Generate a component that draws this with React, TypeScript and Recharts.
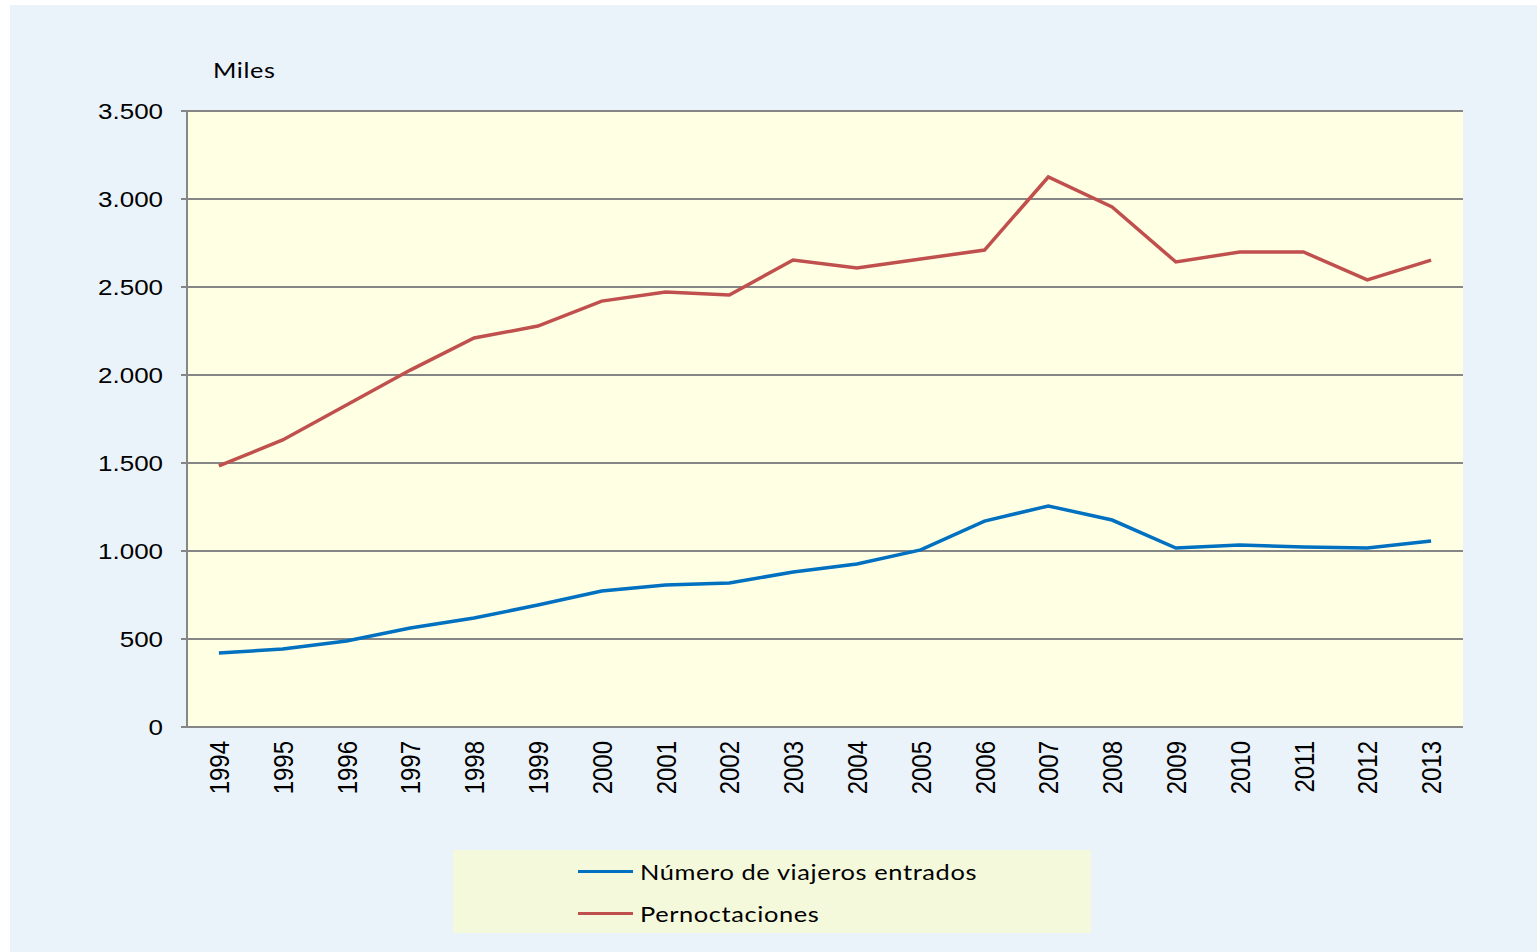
import React from 'react';
import { LineChart, Line, XAxis, YAxis, CartesianGrid } from 'recharts';

const years = ['1994','1995','1996','1997','1998','1999','2000','2001','2002','2003','2004','2005','2006','2007','2008','2009','2010','2011','2012','2013'];
const viajeros = [420, 443, 489, 562, 619, 693, 773, 807, 818, 881, 926, 1006, 1170, 1256, 1176, 1017, 1034, 1023, 1017, 1057];
const pernoctaciones = [1483, 1631, 1830, 2028, 2210, 2278, 2420, 2472, 2455, 2653, 2608, 2659, 2710, 3125, 2955, 2642, 2699, 2699, 2540, 2653];
const yTicks = [0, 500, 1000, 1500, 2000, 2500, 3000, 3500];
const seriesNames = ['Número de viajeros entrados', 'Pernoctaciones'];
const seriesColors = ['#0070C0', '#C0504D'];

const data = years.map((y, i) => ({ year: y, viajeros: viajeros[i], pernoctaciones: pernoctaciones[i] }));

const fmt = (v: number) => String(v).replace(/\B(?=(\d{3})+(?!\d))/g, '.');
const SX = 1.18;
const ARIAL = "'Liberation Sans', Arial, sans-serif";

const XTick = (props: any) => {
  const { x, y, payload } = props;
  return (
    <g transform={`translate(${x},${y}) scale(${SX},1) rotate(-90)`}>
      <text x={0} y={0} textAnchor="end" dy="0.36em" fontFamily={ARIAL} fontSize={24} fill="#000">
        {payload.value}
      </text>
    </g>
  );
};

const YTick = (props: any) => {
  const { x, y, payload } = props;
  return (
    <g transform={`translate(${x},${y}) scale(${SX},1)`}>
      <text x={0} y={0} textAnchor="end" dy="0.36em" fontFamily={ARIAL} fontSize={22} fill="#000">
        {fmt(payload.value)}
      </text>
    </g>
  );
};

const LegendBox = () => (
  <div style={{ position: 'absolute', left: 443, top: 845, width: 638, height: 83, background: '#F5F9DC', fontFamily: 'Lato, "Open Sans", sans-serif', fontSize: 21, color: '#000' }}>
    {seriesNames.map((n, i) => (
      <div key={n} style={{ position: 'absolute', left: 125, top: 6 + i * 42, height: 30, display: 'flex', alignItems: 'center' }}>
        <div style={{ width: 55, height: 3, background: seriesColors[i], marginRight: 7 }} />
        <span style={{ display: 'inline-block', letterSpacing: 0.5, transform: `scaleX(${SX + 0.03})`, transformOrigin: 'left center', whiteSpace: 'nowrap' }}>{n}</span>
      </div>
    ))}
  </div>
);

export default function App() {
  return (
    <div style={{ position: 'absolute', left: 10, top: 5, width: 1527, height: 947, background: '#EBF3FA' }}>
      <div style={{ position: 'absolute', left: 203, top: 52, fontFamily: 'Lato, "Open Sans", sans-serif', fontSize: 21, letterSpacing: 0.5, color: '#000', transform: `scaleX(${SX + 0.02})`, transformOrigin: 'left center' }}>Miles</div>
      <LineChart width={1527} height={947} data={data} margin={{ top: 106, right: 74, bottom: 145, left: 117 }}>
        <CartesianGrid vertical={false} stroke="#868686" strokeWidth={2} fill="#FFFFE3" fillOpacity={1} />
        <XAxis dataKey="year" scale="band" interval={0} tickLine={false} tickSize={0} tickMargin={14}
          axisLine={{ stroke: '#868686', strokeWidth: 2 }} tick={<XTick />} height={80} />
        <YAxis domain={[0, 3500]} ticks={yTicks} width={60} interval={0}
          axisLine={{ stroke: '#868686', strokeWidth: 2 }} tickLine={{ stroke: '#868686', strokeWidth: 2 }} tickSize={6} tickMargin={18}
          tick={<YTick />} />
        <Line dataKey="viajeros" name={seriesNames[0]} stroke={seriesColors[0]} strokeWidth={3.5} dot={false} isAnimationActive={false} />
        <Line dataKey="pernoctaciones" name={seriesNames[1]} stroke={seriesColors[1]} strokeWidth={3.5} dot={false} isAnimationActive={false} />
      </LineChart>
      <LegendBox />
    </div>
  );
}
